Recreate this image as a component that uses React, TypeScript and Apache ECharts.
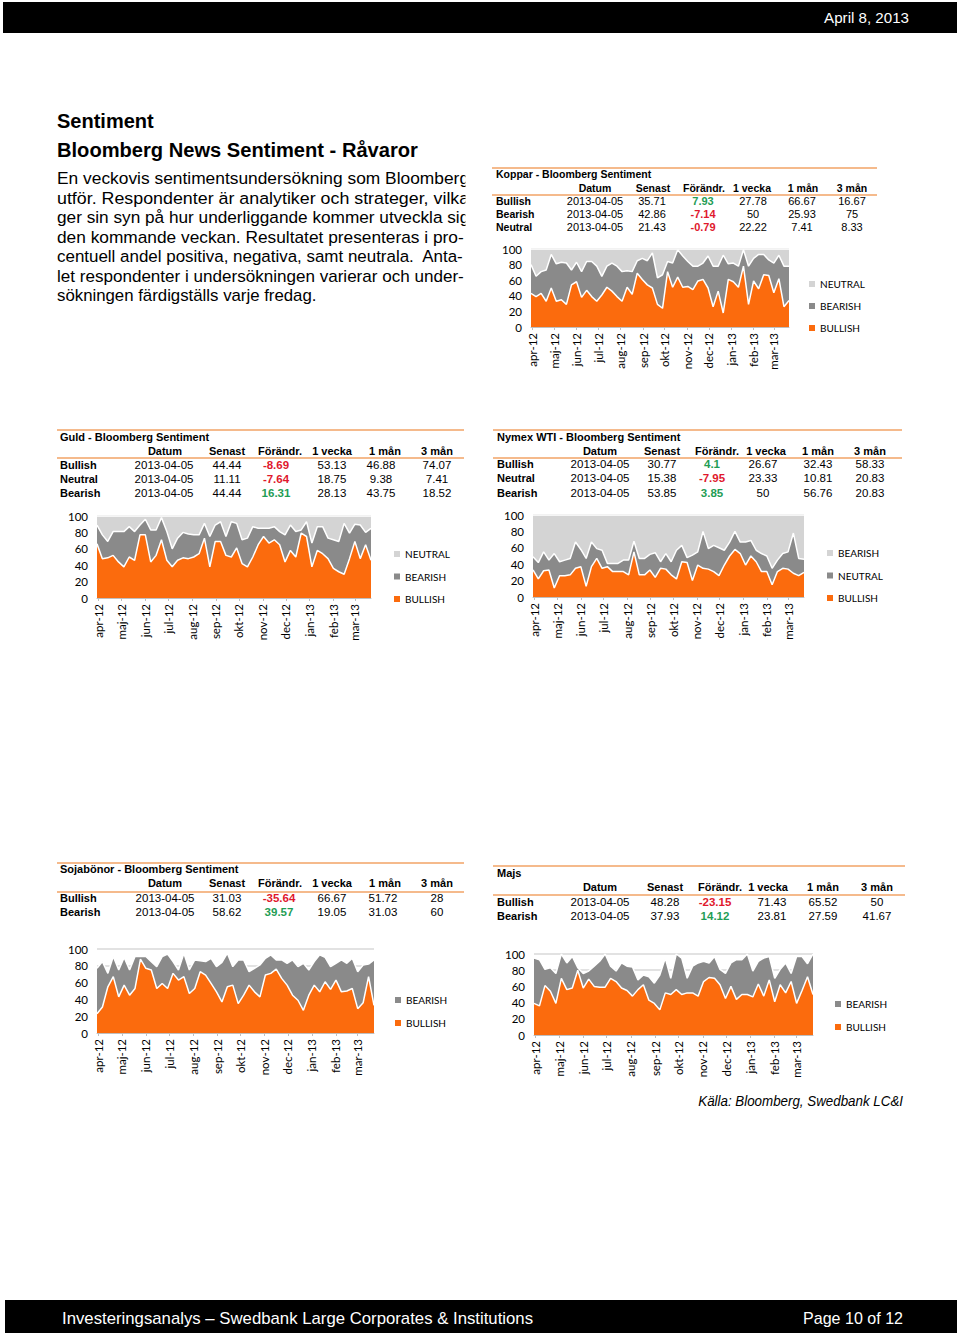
import React, { useEffect, useRef } from "react";
import * as echarts from "echarts";

// ---------- DATA ----------
const weeks = [
  "2012-03-30", "2012-04-06", "2012-04-13", "2012-04-20", "2012-04-27", "2012-05-04", "2012-05-11", "2012-05-18",
  "2012-05-25", "2012-06-01", "2012-06-08", "2012-06-15", "2012-06-22", "2012-06-29", "2012-07-06", "2012-07-13",
  "2012-07-20", "2012-07-27", "2012-08-03", "2012-08-10", "2012-08-17", "2012-08-24", "2012-08-31", "2012-09-07",
  "2012-09-14", "2012-09-21", "2012-09-28", "2012-10-05", "2012-10-12", "2012-10-19", "2012-10-26", "2012-11-02",
  "2012-11-09", "2012-11-16", "2012-11-23", "2012-11-30", "2012-12-07", "2012-12-14", "2012-12-21", "2012-12-28",
  "2013-01-04", "2013-01-11", "2013-01-18", "2013-01-25", "2013-02-01", "2013-02-08", "2013-02-15", "2013-02-22",
  "2013-03-01", "2013-03-08", "2013-03-15", "2013-03-22",
];
const monthLabels = ["jan", "feb", "mar", "apr", "maj", "jun", "jul", "aug", "sep", "okt", "nov", "dec"];

const kopparBullish = [43,39,43,33,50,33,35,29,54,58,38,47,39,33,41,51,46,39,33,51,42,69,61,54,50,29,24,71,51,64,51,52,48,59,61,50,26,46,18,61,58,51,78,29,59,49,67,66,44,62,26,34];
const kopparBearish = [37,26,28,40,43,48,48,53,19,25,33,37,45,45,24,27,36,39,38,21,29,16,27,31,45,34,43,13,31,35,40,32,30,19,21,41,52,32,74,20,24,27,21,49,29,44,26,20,38,30,52,44];
const kopparNeutral = [20,35,29,27,7,19,17,18,27,17,29,16,16,22,35,22,18,22,29,28,29,15,12,15,5,37,33,16,18,1,9,16,22,22,18,9,22,22,8,19,18,22,1,22,12,7,7,14,18,8,22,22];

const guldBullish = [66,48,49,52,44,38,50,46,77,77,44,52,71,46,38,46,49,48,50,54,73,38,69,69,52,50,61,42,38,50,65,75,67,71,65,44,58,50,79,75,38,58,54,48,36,32,29,48,69,48,65,46];
const guldBearish = [23,29,20,29,37,43,37,35,12,19,39,31,27,35,22,27,31,30,27,23,18,37,20,24,23,43,30,29,35,37,20,10,18,16,16,33,31,31,4,18,29,29,33,25,35,37,62,31,21,41,15,39];
const guldNeutral = [11,23,31,19,19,19,13,19,11,4,17,17,2,19,40,27,20,22,23,23,9,25,11,7,25,7,9,29,27,13,15,15,15,13,19,23,11,19,17,7,33,13,13,27,29,31,9,21,10,11,20,15];

const wtiBullish = [33,22,32,33,11,26,26,27,35,37,13,37,47,35,37,31,31,31,27,55,27,27,33,24,35,34,27,22,43,42,20,39,35,34,31,26,39,50,58,53,39,50,43,31,31,15,31,35,34,29,26,30];
const wtiNeutral = [16,20,23,12,42,17,19,20,32,21,34,30,12,22,4,10,10,14,18,13,20,20,19,30,8,19,16,35,20,6,31,16,45,25,32,34,18,17,22,14,28,19,14,22,19,20,14,18,21,49,21,16];
const wtiBearish = [51,58,45,55,47,57,55,53,33,42,53,33,41,43,59,59,59,55,55,32,53,53,48,46,57,47,57,43,37,52,49,45,20,41,37,40,43,33,20,33,33,31,43,47,50,65,55,47,45,22,53,54];

const sojaBullish = [23,31,55,67,43,57,45,53,88,77,75,53,59,53,71,63,67,47,53,73,69,59,49,37,55,57,35,45,57,49,43,69,71,76,65,57,45,39,27,45,57,49,61,52,63,49,50,53,29,36,67,33];
const sojaBearish = [54,54,16,24,32,33,30,38,3,14,10,26,32,41,14,12,28,28,34,13,16,30,30,47,40,22,52,42,16,28,38,20,22,11,22,26,42,40,56,30,28,44,29,27,20,38,33,36,44,45,15,54];

const majsBullish = [39,36,61,54,39,70,56,58,80,58,69,60,59,59,70,66,58,55,48,56,62,43,39,31,52,50,56,50,52,52,48,66,71,70,62,45,60,44,50,50,47,63,48,68,41,62,52,66,39,55,72,50];
const majsBearish = [56,57,20,29,37,30,33,39,3,18,10,25,32,41,15,13,31,30,36,12,12,29,25,43,43,20,44,45,18,33,41,25,18,27,19,31,29,49,43,50,32,28,47,29,29,19,37,10,58,42,16,50];

const tableHeader = ["Datum", "Senast", "Förändr.", "1 vecka", "1 mån", "3 mån"];
const kopparTable = [
  ["Bullish", "2013-04-05", "35.71", "7.93", "27.78", "66.67", "16.67"],
  ["Bearish", "2013-04-05", "42.86", "-7.14", "50", "25.93", "75"],
  ["Neutral", "2013-04-05", "21.43", "-0.79", "22.22", "7.41", "8.33"],
];
const guldTable = [
  ["Bullish", "2013-04-05", "44.44", "-8.69", "53.13", "46.88", "74.07"],
  ["Neutral", "2013-04-05", "11.11", "-7.64", "18.75", "9.38", "7.41"],
  ["Bearish", "2013-04-05", "44.44", "16.31", "28.13", "43.75", "18.52"],
];
const wtiTable = [
  ["Bullish", "2013-04-05", "30.77", "4.1", "26.67", "32.43", "58.33"],
  ["Neutral", "2013-04-05", "15.38", "-7.95", "23.33", "10.81", "20.83"],
  ["Bearish", "2013-04-05", "53.85", "3.85", "50", "56.76", "20.83"],
];
const sojaTable = [
  ["Bullish", "2013-04-05", "31.03", "-35.64", "66.67", "51.72", "28"],
  ["Bearish", "2013-04-05", "58.62", "39.57", "19.05", "31.03", "60"],
];
const majsTable = [
  ["Bullish", "2013-04-05", "48.28", "-23.15", "71.43", "65.52", "50"],
  ["Bearish", "2013-04-05", "37.93", "14.12", "23.81", "27.59", "41.67"],
];

const introLines = [
  "En veckovis sentimentsundersökning som Bloomberg",
  "utför. Respondenter är analytiker och strateger, vilka",
  "ger sin syn på hur underliggande kommer utveckla sig",
  "den kommande veckan. Resultatet presenteras i pro-",
  "centuell andel positiva, negativa, samt neutrala.  Anta-",
  "let respondenter i undersökningen varierar och under-",
  "sökningen färdigställs varje fredag.",
];

// ---------- STYLE ----------
const ARIAL = "'Liberation Sans', Arial, sans-serif";
const CAL = "Lato, 'Open Sans', sans-serif";
const ORANGE = "#fb6b0d";
const DARK = "#8a8a8a";
const LIGHT = "#d4d4d4";
const RULE = "#f2a366";
const GREEN = "#1f9d55";
const RED = "#e0182d";

type SeriesDef = { name: string; data: number[]; color: string };
type Panel = {
  key: string;
  title: string;
  table: string[][];
  x0: number; x1: number; lineTop: number; lineHead: number;
  titleY: number; headY: number; rowY: number[]; labelX: number;
  headCols: number[]; valCols: number[];
  boldSize: number; valSize: number;
  grid: { left: number; right: number; top: number; bottom: number };
  legend: { left: number; top: number; gap: number; order: string[] };
  series: SeriesDef[];
};

const panels: Panel[] = [
  {
    key: "koppar", title: "Koppar - Bloomberg Sentiment", table: kopparTable,
    x0: 492, x1: 877, lineTop: 168, lineHead: 195, titleY: 174, headY: 188, rowY: [201, 214, 227], labelX: 496,
    headCols: [595, 653, 704, 752, 803, 852], valCols: [595, 652, 703, 753, 802, 852], boldSize: 10.5, valSize: 11,
    grid: { left: 531, right: 789, top: 249, bottom: 327 },
    legend: { left: 809, top: 278, gap: 10, order: ["NEUTRAL", "BEARISH", "BULLISH"] },
    series: [
      { name: "BULLISH", data: kopparBullish, color: ORANGE },
      { name: "BEARISH", data: kopparBearish, color: DARK },
      { name: "NEUTRAL", data: kopparNeutral, color: LIGHT },
    ],
  },
  {
    key: "guld", title: "Guld - Bloomberg Sentiment", table: guldTable,
    x0: 57, x1: 464, lineTop: 430, lineHead: 458, titleY: 437, headY: 451, rowY: [465, 479, 493], labelX: 60,
    headCols: [165, 227, 280, 332, 385, 437], valCols: [164, 227, 276, 332, 381, 437], boldSize: 11, valSize: 11.5,
    grid: { left: 97, right: 371, top: 516, bottom: 598 },
    legend: { left: 394, top: 548, gap: 10.5, order: ["NEUTRAL", "BEARISH", "BULLISH"] },
    series: [
      { name: "BULLISH", data: guldBullish, color: ORANGE },
      { name: "BEARISH", data: guldBearish, color: DARK },
      { name: "NEUTRAL", data: guldNeutral, color: LIGHT },
    ],
  },
  {
    key: "wti", title: "Nymex WTI - Bloomberg Sentiment", table: wtiTable,
    x0: 493, x1: 902, lineTop: 430, lineHead: 458, titleY: 437, headY: 451, rowY: [464, 478, 493], labelX: 497,
    headCols: [600, 662, 717, 766, 818, 870], valCols: [600, 662, 712, 763, 818, 870], boldSize: 11, valSize: 11.5,
    grid: { left: 533, right: 804, top: 515, bottom: 597 },
    legend: { left: 827, top: 547, gap: 10.5, order: ["BEARISH", "NEUTRAL", "BULLISH"] },
    series: [
      { name: "BULLISH", data: wtiBullish, color: ORANGE },
      { name: "NEUTRAL", data: wtiNeutral, color: DARK },
      { name: "BEARISH", data: wtiBearish, color: LIGHT },
    ],
  },
  {
    key: "soja", title: "Sojabönor - Bloomberg Sentiment", table: sojaTable,
    x0: 57, x1: 464, lineTop: 863, lineHead: 892, titleY: 869, headY: 883, rowY: [898, 912], labelX: 60,
    headCols: [165, 227, 280, 332, 385, 437], valCols: [165, 227, 279, 332, 383, 437], boldSize: 11, valSize: 11.5,
    grid: { left: 97, right: 374, top: 949, bottom: 1033 },
    legend: { left: 395, top: 994, gap: 11, order: ["BEARISH", "BULLISH"] },
    series: [
      { name: "BULLISH", data: sojaBullish, color: ORANGE },
      { name: "BEARISH", data: sojaBearish, color: DARK },
    ],
  },
  {
    key: "majs", title: "Majs", table: majsTable,
    x0: 493, x1: 905, lineTop: 866, lineHead: 895, titleY: 873, headY: 887, rowY: [902, 916], labelX: 497,
    headCols: [600, 665, 720, 768, 823, 877], valCols: [600, 665, 715, 772, 823, 877], boldSize: 11, valSize: 11.5,
    grid: { left: 534, right: 813, top: 954, bottom: 1035 },
    legend: { left: 835, top: 998, gap: 11, order: ["BEARISH", "BULLISH"] },
    series: [
      { name: "BULLISH", data: majsBullish, color: ORANGE },
      { name: "BEARISH", data: majsBearish, color: DARK },
    ],
  },
];

// ---------- HELPERS ----------
let measureCtx: CanvasRenderingContext2D | null = null;
function measure(text: string, font: string): number {
  if (!measureCtx) measureCtx = document.createElement("canvas").getContext("2d");
  measureCtx!.font = font;
  return measureCtx!.measureText(text).width;
}

type TxtOpt = { size: number; weight?: string; italic?: boolean; fill?: string; align?: string; family?: string; fit?: number };
function txt(text: string, x: number, y: number, o: TxtOpt): any {
  const weight = o.weight || "normal";
  const fstyle = o.italic ? "italic" : "normal";
  const family = o.family || ARIAL;
  let scaleX = 1;
  if (o.fit) {
    const w = measure(text, `${fstyle} ${weight} ${o.size}px ${family}`);
    if (w > 0) scaleX = o.fit / w;
  }
  const align = o.align || "left";
  return {
    type: "text", x, y, scaleX, silent: true, z: 20,
    style: {
      text, fill: o.fill || "#000", fontSize: o.size, fontWeight: weight, fontStyle: fstyle, fontFamily: family,
      align, textAlign: align, verticalAlign: "middle", textVerticalAlign: "middle",
    },
  };
}
function hline(x1: number, x2: number, y: number, color: string, w: number): any {
  return { type: "line", silent: true, z: 20, shape: { x1, y1: y, x2, y2: y }, style: { stroke: color, lineWidth: w } };
}

function buildOption(): any {
  const graphics: any[] = [];
  // header / footer
  graphics.push({ type: "rect", silent: true, z: 10, shape: { x: 3, y: 2, width: 954, height: 31 }, style: { fill: "#000" } });
  graphics.push(txt("April 8, 2013", 909, 17.5, { size: 15, fill: "#fff", align: "right", fit: 85 }));
  graphics.push({ type: "rect", silent: true, z: 10, shape: { x: 5, y: 1300, width: 952, height: 33 }, style: { fill: "#000" } });
  graphics.push(txt("Investeringsanalys – Swedbank Large Corporates & Institutions", 62, 1318, { size: 16, fill: "#fff", fit: 471 }));
  graphics.push(txt("Page 10 of 12", 903, 1318, { size: 16, fill: "#fff", align: "right", fit: 100 }));

  // titles & intro
  graphics.push(txt("Sentiment", 57, 120.5, { size: 20, weight: "bold" }));
  graphics.push(txt("Bloomberg News Sentiment - Råvaror", 57, 150, { size: 20, weight: "bold", fit: 361 }));
  const lineYs = [179, 198.5, 218, 237.5, 257, 276.5, 296];
  const fits = [412, 412, 412, 406.5, 406.5, 406.5, 259.5];
  introLines.forEach((l, i) => graphics.push(txt(l, 57, lineYs[i], { size: 16.8, fit: fits[i] })));
  graphics.push({ type: "rect", silent: true, z: 30, shape: { x: 465.5, y: 166, width: 24, height: 64 }, style: { fill: "#fff" } });

  graphics.push(txt("Källa: Bloomberg, Swedbank LC&I", 903, 1101, { size: 14, italic: true, align: "right", fit: 205 }));

  // tables
  panels.forEach((p) => {
    graphics.push(hline(p.x0, p.x1, p.lineTop, RULE, 1.6));
    graphics.push(hline(p.x0, p.x1, p.lineHead, RULE, 1.6));
    graphics.push(txt(p.title, p.labelX, p.titleY, { size: p.boldSize, weight: "bold" }));
    tableHeader.forEach((h, c) => graphics.push(txt(h, p.headCols[c], p.headY, { size: p.boldSize, weight: "bold", align: "center" })));
    p.table.forEach((row, r) => {
      graphics.push(txt(row[0], p.labelX, p.rowY[r], { size: p.boldSize, weight: "bold" }));
      row.slice(1).forEach((v, c) => {
        const isChange = c === 2;
        const fill = isChange ? (v.startsWith("-") ? RED : GREEN) : "#000";
        graphics.push(txt(v, p.valCols[c], p.rowY[r], { size: p.valSize, weight: isChange ? "bold" : "normal", fill, align: "center" }));
      });
    });
  });

  const grid: any[] = [];
  const xAxis: any[] = [];
  const yAxis: any[] = [];
  const series: any[] = [];
  const legend: any[] = [];

  panels.forEach((p, i) => {
    grid.push({ left: p.grid.left, top: p.grid.top, width: p.grid.right - p.grid.left, height: p.grid.bottom - p.grid.top, containLabel: false });
    xAxis.push({
      type: "time", gridIndex: i, min: weeks[0], max: weeks[weeks.length - 1], splitNumber: 12,
      minInterval: 28 * 86400000, maxInterval: 31 * 86400000,
      axisLine: { show: true, lineStyle: { color: "#bfbfbf", width: 1 } },
      axisTick: { show: true, length: 3, lineStyle: { color: "#bfbfbf" } },
      splitLine: { show: false },
      axisLabel: {
        rotate: 90, fontSize: 11.5, fontFamily: CAL, color: "#000", margin: 6, hideOverlap: false,
        showMinLabel: false, showMaxLabel: false,
        formatter: (v: number) => {
          const d = new Date(v);
          return `${monthLabels[d.getMonth()]}-${String(d.getFullYear()).slice(2)}`;
        },
      },
    });
    yAxis.push({
      type: "value", gridIndex: i, min: 0, max: 100, interval: 20,
      axisLine: { show: false }, axisTick: { show: false },
      axisLabel: { fontSize: 11.5, fontFamily: CAL, color: "#000", margin: 9 },
      splitLine: { show: true, lineStyle: { color: "#d9d9d9", width: 1.5 } },
    });
    p.series.forEach((s, k) => {
      series.push({
        type: "line", name: `${s.name}|${p.key}`, xAxisIndex: i, yAxisIndex: i, stack: p.key,
        data: weeks.map((w, j) => [w, s.data[j]]),
        symbol: "none", showSymbol: false, smooth: false,
        color: s.color, itemStyle: { color: s.color },
        lineStyle: { color: "#ffffff", width: 1.5 },
        areaStyle: { color: s.color, opacity: 1 },
        z: 5 - k,
      });
    });
    legend.push({
      data: p.legend.order.map((n) => `${n}|${p.key}`),
      orient: "vertical", left: p.legend.left, top: p.legend.top, padding: 0,
      itemWidth: 6, itemHeight: 6, itemGap: p.legend.gap, icon: "rect", selectedMode: false,
      itemStyle: { borderWidth: 0 },
      textStyle: { fontSize: 10, fontFamily: CAL, color: "#000", lineHeight: 12 },
      formatter: (n: string) => n.split("|")[0],
    });
  });

  return { animation: false, backgroundColor: "#fff", grid, xAxis, yAxis, series, legend, graphic: { elements: graphics } };
}

export default function App() {
  const ref = useRef<HTMLDivElement>(null);
  useEffect(() => {
    const chart = echarts.init(ref.current!, null, { renderer: "svg" });
    chart.setOption(buildOption());
    return () => chart.dispose();
  }, []);
  return <div ref={ref} style={{ position: "absolute", left: 0, top: 0, width: 960, height: 1335 }} />;
}
